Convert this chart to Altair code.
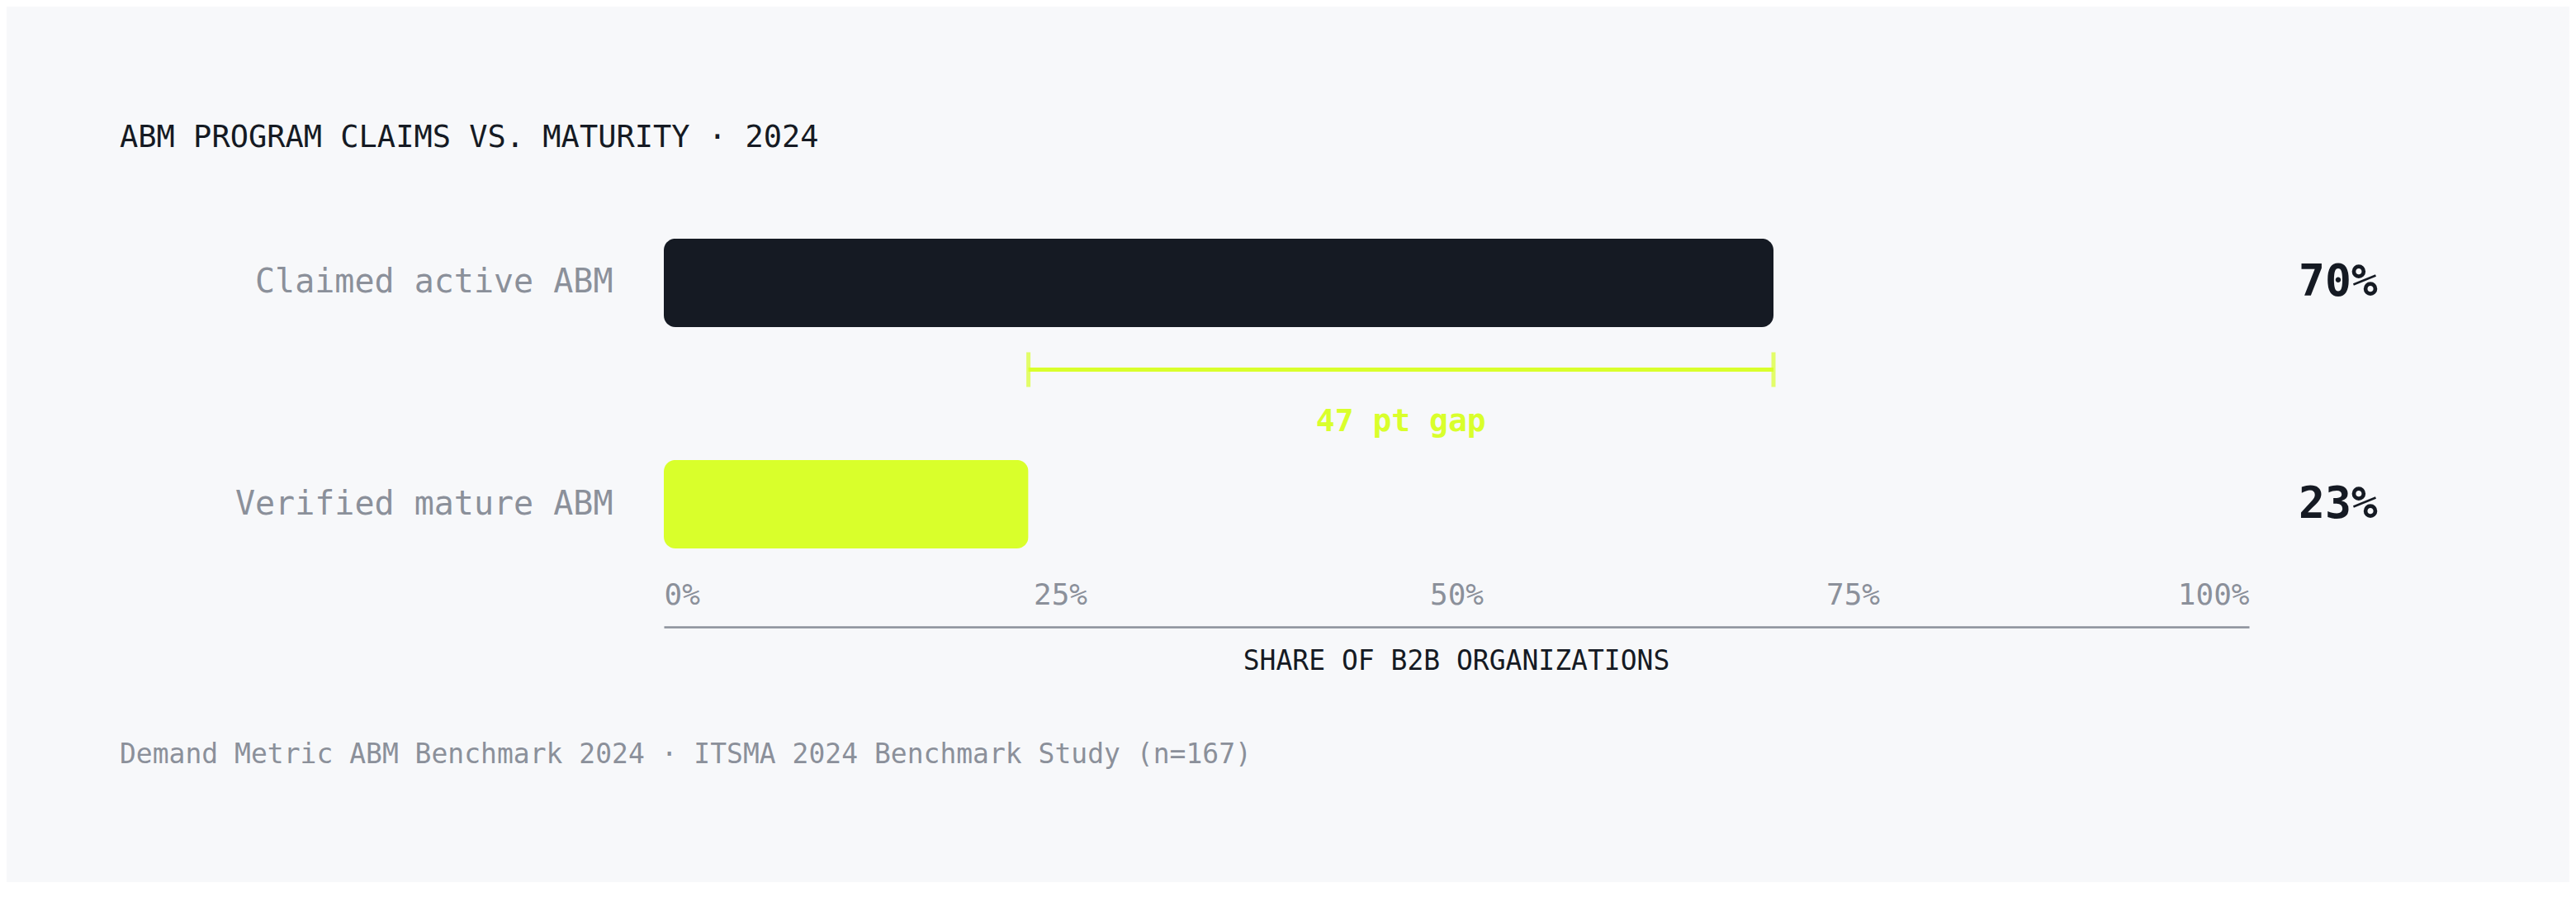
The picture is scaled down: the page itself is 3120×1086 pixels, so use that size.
import altair as alt
import pandas as pd

# ---- data -------------------------------------------------------------
categories = ["Claimed active ABM", "Verified mature ABM"]
values = [70, 23]
value_labels = ["70%", "23%"]
bar_colors = ["#151a23", "#d9ff2b"]
x_ticks = [0, 25, 50, 75, 100]
gap_label = "47 pt gap"
title_text = "ABM PROGRAM CLAIMS VS. MATURITY · 2024"
axis_title_text = "SHARE OF B2B ORGANIZATIONS"
footer_text = "Demand Metric ABM Benchmark 2024 · ITSMA 2024 Benchmark Study (n=167)"

# ---- style ------------------------------------------------------------
W, H = 1920, 565
BG = "#f7f8fa"
DARK = "#151a23"
GRAY = "#8b909a"
LIME = "#d9ff2b"
FONT = "DejaVu Sans Mono"

bars_df = pd.DataFrame({"category": categories, "value": values, "label": value_labels})
gap_df = pd.DataFrame({
    "category": [categories[0]],
    "lo": [values[1]],
    "hi": [values[0]],
    "label": [gap_label],
})
ends_df = pd.DataFrame({"category": [categories[0], categories[0]], "x": [values[1], values[0]]})

x_scale = alt.Scale(domain=[0, 100], nice=False)
y_scale = alt.Scale(domain=categories, paddingInner=0.6, paddingOuter=0.354)

y_axis = alt.Axis(
    title=None, ticks=False, domain=False, grid=False,
    labelFont=FONT, labelFontSize=40, labelColor=GRAY,
    labelPadding=62, labelLimit=800,
)
x_axis = alt.Axis(
    title=None, values=x_ticks, labelExpr="datum.value + '%'",
    ticks=False, grid=False, domainColor=GRAY, domainWidth=2.5,
    labelPadding=-39, labelBaseline="middle", labelFont=FONT,
    labelFontSize=36, labelColor=GRAY, labelFlush=True,
)

bars = alt.Chart(bars_df).mark_bar(cornerRadius=14).encode(
    x=alt.X("value:Q", scale=x_scale, axis=x_axis),
    y=alt.Y("category:N", scale=y_scale, axis=y_axis, sort=categories),
    color=alt.Color("category:N", scale=alt.Scale(domain=categories, range=bar_colors), legend=None),
)

value_text = alt.Chart(bars_df).mark_text(
    align="left", baseline="middle", dx=60, font=FONT, fontSize=53,
    fontWeight="bold", color=DARK,
).encode(
    x=alt.datum(100),
    y=alt.Y("category:N", scale=y_scale, sort=categories),
    text="label:N",
)

gap_rule = alt.Chart(gap_df).mark_rule(color=LIME, strokeWidth=5, yOffset=105).encode(
    x=alt.X("lo:Q", scale=x_scale),
    x2="hi:Q",
    y=alt.Y("category:N", scale=y_scale, sort=categories),
)

gap_ends = alt.Chart(ends_df).mark_tick(
    color=LIME, thickness=5, size=42, yOffset=105, orient="vertical"
).encode(
    x=alt.X("x:Q", scale=x_scale),
    y=alt.Y("category:N", scale=y_scale, sort=categories),
)

gap_text = alt.Chart(gap_df).transform_calculate(
    mid="(datum.lo + datum.hi) / 2"
).mark_text(
    color=LIME, font=FONT, fontSize=38, fontWeight="bold",
    baseline="middle", align="center", yOffset=169,
).encode(
    x=alt.X("mid:Q", scale=x_scale),
    y=alt.Y("category:N", scale=y_scale, sort=categories),
    text="label:N",
)

title = alt.Chart(pd.DataFrame({"t": [title_text]})).mark_text(
    align="left", baseline="middle", font=FONT, fontSize=37, color=DARK,
).encode(x=alt.value(-659), y=alt.value(-27), text="t:N")

axis_title = alt.Chart(pd.DataFrame({"t": [axis_title_text]})).mark_text(
    align="center", baseline="middle", font=FONT, fontSize=33, color=DARK,
).encode(x=alt.value(W / 2), y=alt.value(607), text="t:N")

footer = alt.Chart(pd.DataFrame({"t": [footer_text]})).mark_text(
    align="left", baseline="middle", font=FONT, fontSize=33, color=GRAY,
).encode(x=alt.value(-659), y=alt.value(720), text="t:N")

chart = alt.layer(
    bars, value_text, gap_rule, gap_ends, gap_text, title, axis_title, footer
).properties(
    width=W, height=H,
    autosize=alt.AutoSizeParams(type="none"),
    padding={"left": 796, "top": 186, "right": 388, "bottom": 309},
    background=BG,
).configure_view(stroke=None)

chart.save("out.html", embed_options={"renderer": "svg", "actions": False})
